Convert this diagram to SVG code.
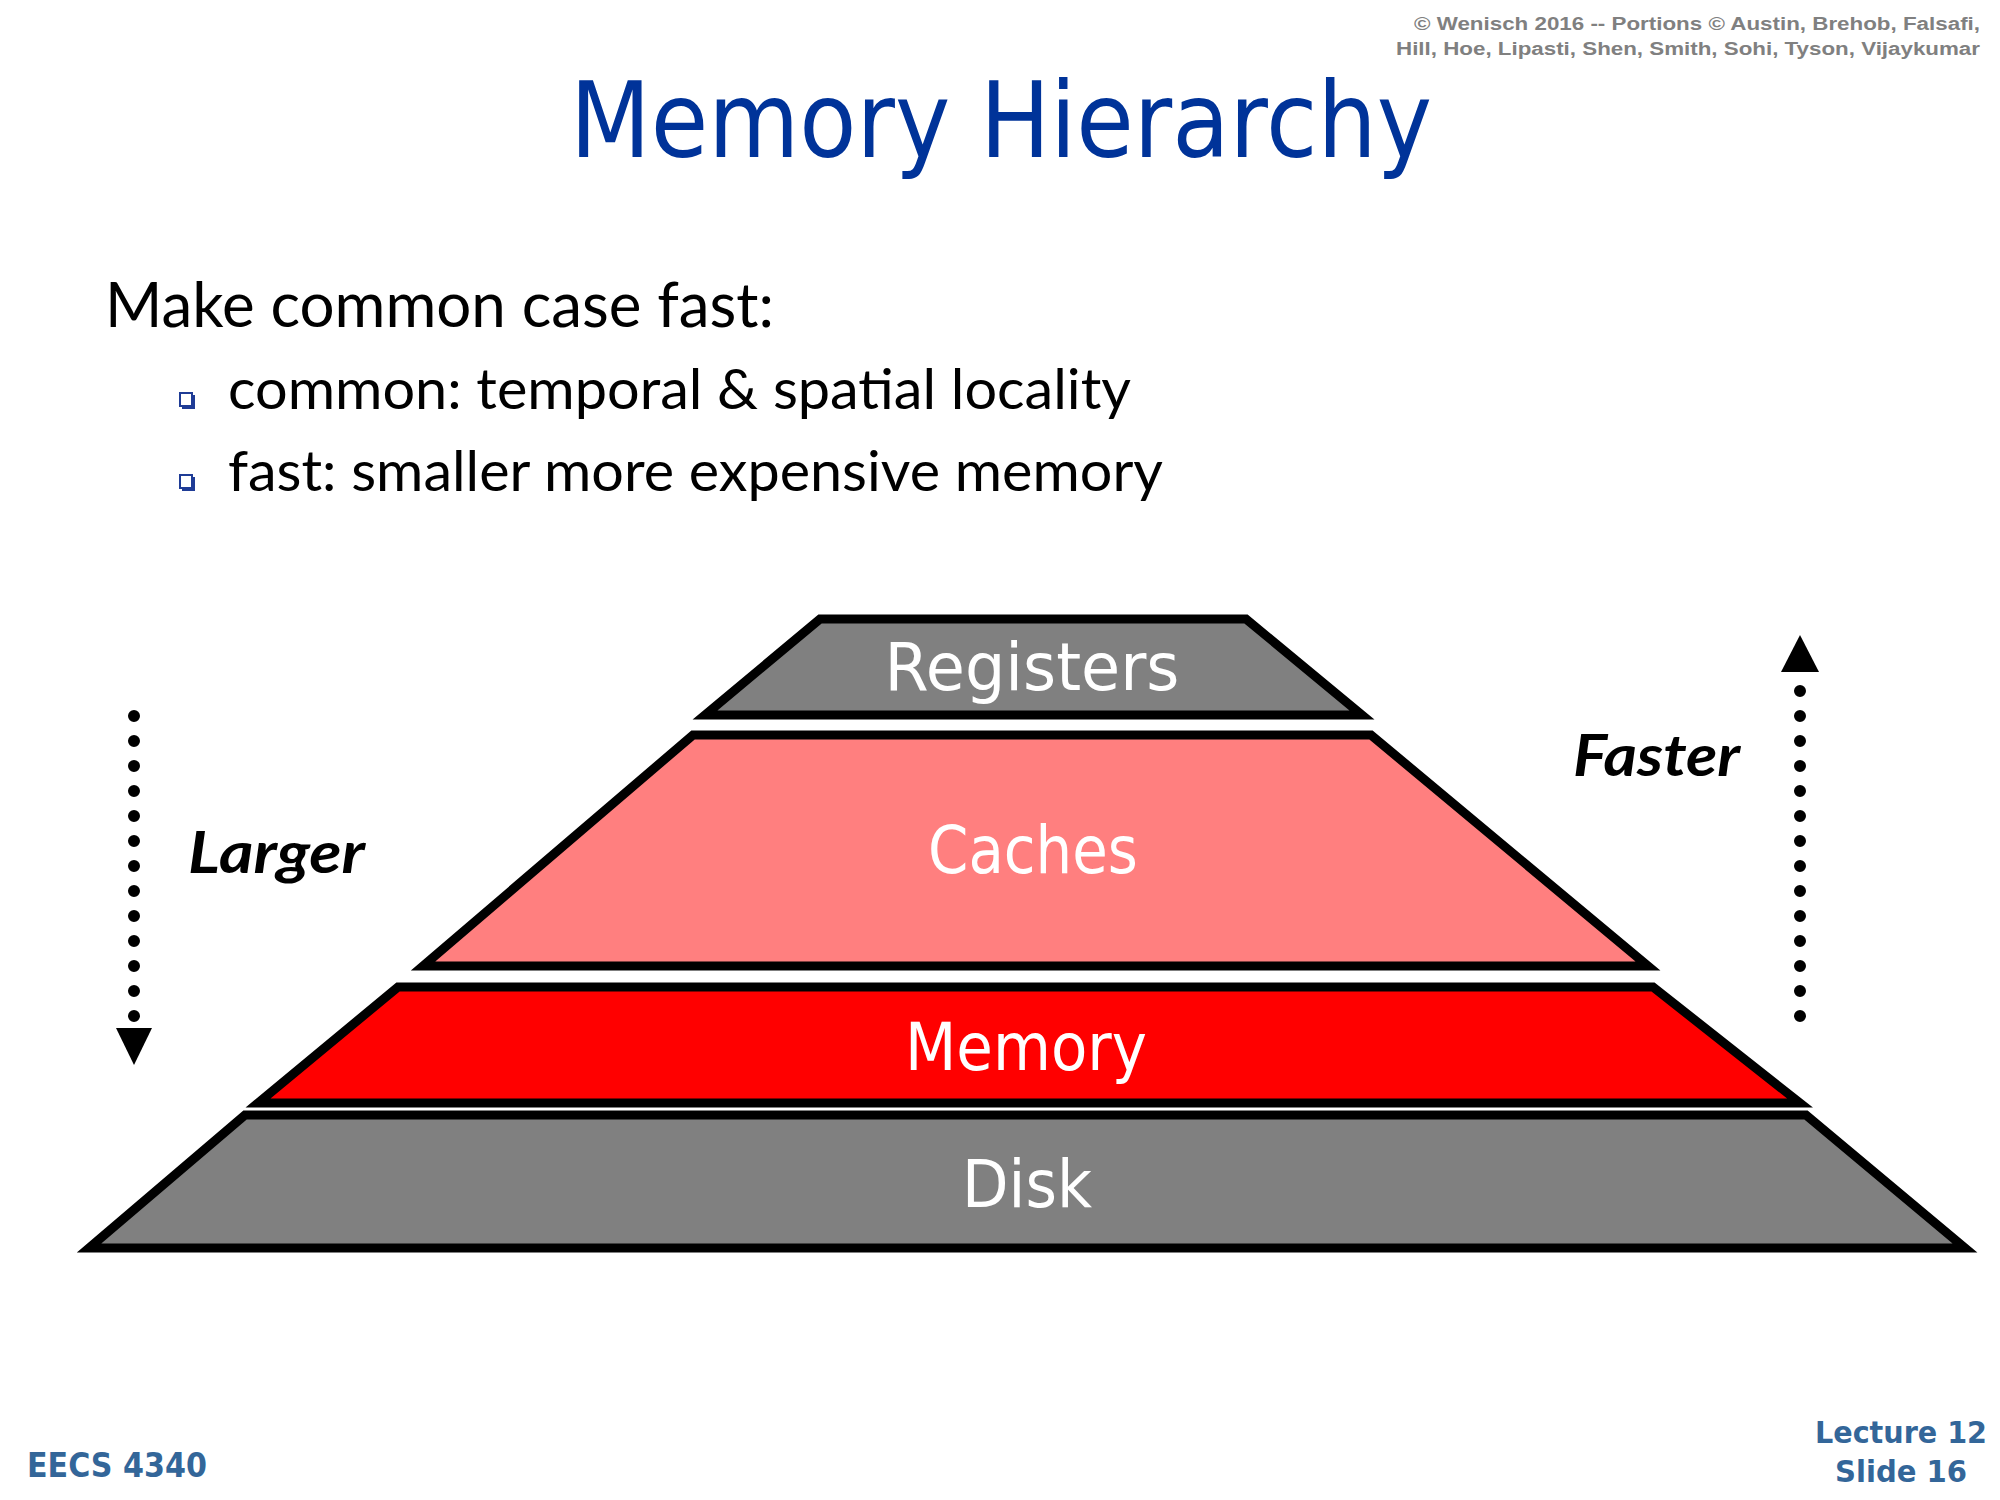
<svg xmlns="http://www.w3.org/2000/svg" width="2000" height="1500" viewBox="0 0 2000 1500">
  <style>
    .layer { stroke: #000; stroke-width: 9; stroke-linejoin: miter; stroke-miterlimit: 10; }
    .lbl { font-family: "DejaVu Sans", sans-serif; font-size: 66px; fill: #fff; text-anchor: middle; }
    .body { font-family: Lato, "Open Sans", sans-serif; fill: #000; }
    .side { font-family: Lato, "Open Sans", sans-serif; font-weight: bold; font-style: italic; font-size: 58px; fill: #000; }
    .copy { font-family: "Liberation Sans", Arial, sans-serif; font-weight: bold; font-size: 18px; fill: #808080; text-anchor: end; }
    .foot { font-family: "DejaVu Sans", sans-serif; font-weight: bold; fill: #336699; }
    .dots { stroke: #000; stroke-width: 12; stroke-linecap: round; stroke-dasharray: 0 25; fill: none; }
    .bullet { fill: #fff; stroke: #1f3c96; stroke-width: 2; }
    .bshadow { fill: none; stroke: #1f3c96; stroke-width: 3; }
  </style>
  <rect width="2000" height="1500" fill="#fff"/>

  <g id="copyright">
    <text class="copy" x="1980" y="30" textLength="566" lengthAdjust="spacingAndGlyphs">© Wenisch 2016 -- Portions © Austin, Brehob, Falsafi,</text>
    <text class="copy" x="1980" y="55" textLength="584" lengthAdjust="spacingAndGlyphs">Hill, Hoe, Lipasti, Shen, Smith, Sohi, Tyson, Vijaykumar</text>
  </g>

  <g id="title">
    <text x="570" y="157" font-family="DejaVu Sans, sans-serif" font-size="106" fill="#003399" textLength="862" lengthAdjust="spacingAndGlyphs">Memory Hierarchy</text>
  </g>

  <g id="body">
    <text class="body" x="105" y="327" font-size="62" textLength="669" lengthAdjust="spacingAndGlyphs">Make common case fast:</text>
    <rect class="bullet" x="180" y="393" width="12" height="13"/>
    <path class="bshadow" d="M193.5 395 V407.5 H182"/>
    <text class="body" x="228" y="409" font-size="57" textLength="903" lengthAdjust="spacingAndGlyphs">common: temporal &amp; spatial locality</text>
    <rect class="bullet" x="180" y="475" width="12" height="13"/>
    <path class="bshadow" d="M193.5 477 V489.5 H182"/>
    <text class="body" x="228" y="491" font-size="57" textLength="935" lengthAdjust="spacingAndGlyphs">fast: smaller more expensive memory</text>
  </g>

  <g id="registers">
    <polygon class="layer" fill="#808080" points="820,619 1246,619 1362,715 705,715"/>
    <text class="lbl" x="1032" y="690" textLength="295" lengthAdjust="spacingAndGlyphs">Registers</text>
  </g>
  <g id="caches">
    <polygon class="layer" fill="#FF7F7F" points="693,735 1371,735 1648,966 423,966"/>
    <text class="lbl" x="1033" y="873" textLength="210" lengthAdjust="spacingAndGlyphs">Caches</text>
  </g>
  <g id="memory">
    <polygon class="layer" fill="#FF0000" points="398,987 1653,987 1800,1103 258,1103"/>
    <text class="lbl" x="1026" y="1070" textLength="242" lengthAdjust="spacingAndGlyphs">Memory</text>
  </g>
  <g id="disk">
    <polygon class="layer" fill="#808080" points="245,1115 1806,1115 1965,1248 89,1248"/>
    <text class="lbl" x="1027" y="1207" textLength="130" lengthAdjust="spacingAndGlyphs">Disk</text>
  </g>

  <g id="connectors">
    <line class="dots" x1="134" y1="716" x2="134" y2="1017"/>
    <polygon points="116,1028 152,1028 134,1065" fill="#000"/>
    <line class="dots" x1="1800" y1="1016" x2="1800" y2="690"/>
    <polygon points="1781,672 1819,672 1800,635" fill="#000"/>
  </g>

  <g id="labels">
    <text class="side" x="188" y="873" textLength="177" lengthAdjust="spacingAndGlyphs">Larger</text>
    <text class="side" x="1573" y="776" textLength="167" lengthAdjust="spacingAndGlyphs">Faster</text>
  </g>

  <g id="footer">
    <text class="foot" x="27" y="1477" font-size="33" textLength="180" lengthAdjust="spacingAndGlyphs">EECS 4340</text>
    <text class="foot" x="1901" y="1443" font-size="30" text-anchor="middle" textLength="172" lengthAdjust="spacingAndGlyphs">Lecture 12</text>
    <text class="foot" x="1901" y="1482" font-size="30" text-anchor="middle" textLength="132" lengthAdjust="spacingAndGlyphs">Slide 16</text>
  </g>
</svg>
